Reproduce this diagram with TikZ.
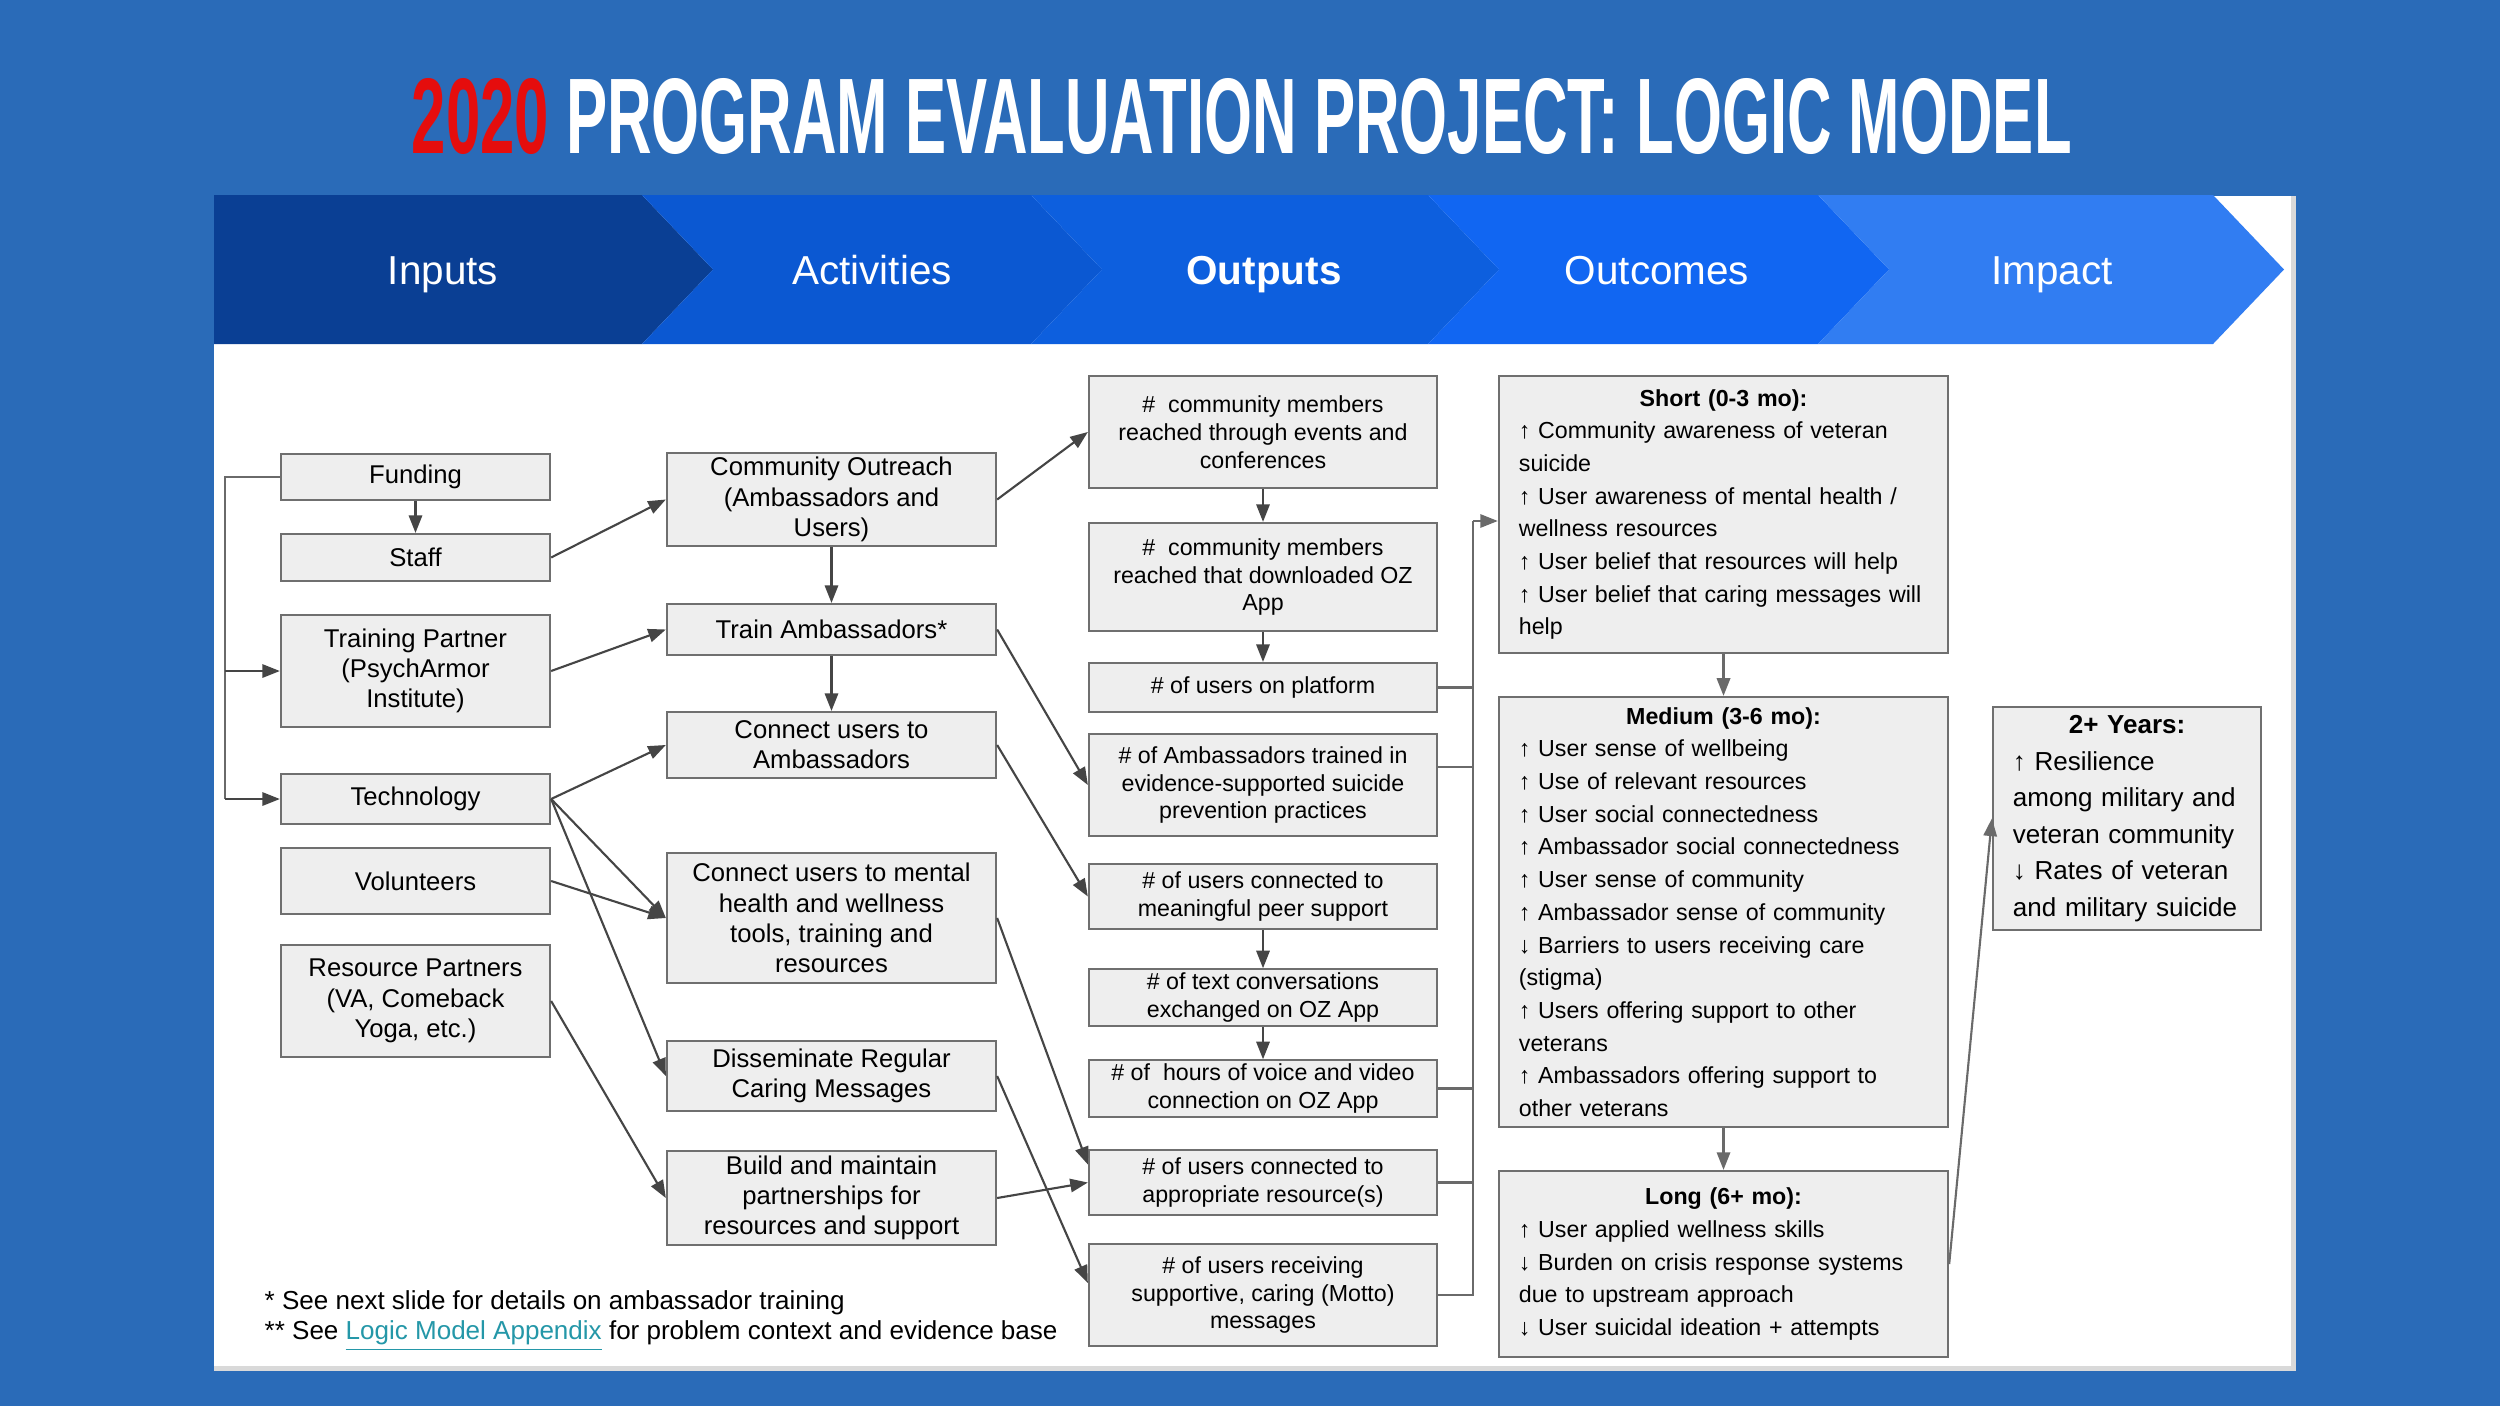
\documentclass[tikz,border=0pt]{standalone}
\usepackage{fontspec}
\setmainfont{Liberation Sans}
\usepackage{graphicx}
\usepackage{tikz}
\usetikzlibrary{arrows.meta,calc,positioning}
\usepackage{xcolor}
\definecolor{slide}{HTML}{2A6BB8}
\definecolor{titlered}{HTML}{E50D0D}
\definecolor{navy}{HTML}{0A3F94}
\definecolor{royal}{HTML}{0B58D2}
\definecolor{azure}{HTML}{0D5FDE}
\definecolor{bright}{HTML}{1166F2}
\definecolor{sky}{HTML}{317DF2}
\definecolor{boxfill}{HTML}{EEEEEE}
\definecolor{boxline}{HTML}{6F6F6F}
\definecolor{wiregray}{HTML}{454545}
\definecolor{busgray}{HTML}{6A6A6A}
\definecolor{linkteal}{HTML}{2497A8}
\definecolor{panelshade}{HTML}{D9D9D9}
\tikzset{
    box/.style={
        draw=boxline,
        fill=boxfill,
        line width=0.6pt,
        align=center,
        inner sep=1pt,
        font=\fontsize{7.3pt}{8.6pt}\selectfont
    },
    incol/.style={
        box,
        minimum width=2.69cm
    },
    actcol/.style={
        box,
        minimum width=3.29cm
    },
    outcol/.style={
        box,
        minimum width=3.48cm,
        font=\fontsize{6.6pt}{7.9pt}\selectfont
    },
    stagebox/.style={
        box,
        align=left,
        inner xsep=0.2cm,
        inner ysep=1pt,
        font=\fontsize{6.6pt}{9.3pt}\selectfont
    },
    flow/.style={
        -{Triangle[length=5pt,width=3.8pt]},
        line width=0.6pt,
        color=wiregray
    },
    wire/.style={
        line width=0.6pt,
        color=busgray
    },
    bandlabel/.style={
        text=white,
        anchor=base,
        inner sep=0pt,
        font=\fontsize{11.5pt}{13pt}\selectfont
    },
    note/.style={
        anchor=west,
        align=left,
        inner sep=0pt,
        font=\fontsize{7.4pt}{8.5pt}\selectfont
    }
}

\begin{document}
\begin{tikzpicture}[x=0.01cm,y=-0.01cm]

    % Fond
    \useasboundingbox (0,0) rectangle (2500,1406);
    \fill[slide] (0,0) rectangle (2500,1406);
    \fill[white] (214,196) rectangle (2291,1366);
    \draw[panelshade,line width=0.05cm]
        (214,1368) -- (2293,1368) -- (2293,196);

    % Titre
    \node[anchor=base west,inner sep=0pt] (title) at (411,153)
        {\resizebox{16.59cm}{0.75cm}{\bfseries\textcolor{titlered}{2020} \textcolor{white}{PROGRAM EVALUATION PROJECT: LOGIC MODEL}}};

    % Bandeau
    \fill[navy]
        (214,195) -- (642,195) -- (713,269.5) -- (642,344) -- (214,344) -- cycle;
    \fill[royal]
        (642,195) -- (1031,195) -- (1102,269.5) -- (1031,344) -- (642,344) -- (713,269.5) -- cycle;
    \fill[azure]
        (1031,195) -- (1428,195) -- (1499,269.5) -- (1428,344) -- (1031,344) -- (1102,269.5) -- cycle;
    \fill[bright]
        (1428,195) -- (1818,195) -- (1889,269.5) -- (1818,344) -- (1428,344) -- (1499,269.5) -- cycle;
    \fill[sky]
        (1818,195) -- (2213,195) -- (2284,269.5) -- (2213,344) -- (1818,344) -- (1889,269.5) -- cycle;

    % Etiquettes du bandeau
    \node[bandlabel] (lblinputs) at (443,284) {Inputs};
    \node[bandlabel] (lblactivities) at (872,284) {Activities};
    \node[bandlabel] (lbloutputs) at (1264,284) {\bfseries Outputs};
    \node[bandlabel] (lbloutcomes) at (1657,284) {Outcomes};
    \node[bandlabel] (lblimpact) at (2052,284) {Impact};

    % Inputs
    \node[incol,minimum height=0.46cm] (funding) at (415.5,477) {Funding};
    \node[incol,minimum height=0.47cm] (staff) at (415.5,557.5) {Staff};
    \node[incol,minimum height=1.12cm] (training) at (415.5,671)
        {Training Partner\\(PsychArmor\\Institute)};
    \node[incol,minimum height=0.50cm] (technology) at (415.5,799) {Technology};
    \node[incol,minimum height=0.66cm] (volunteers) at (415.5,881) {Volunteers};
    \node[incol,minimum height=1.12cm] (resources) at (415.5,1001)
        {Resource Partners\\(VA, Comeback\\Yoga, etc.)};

    % Activities
    \node[actcol,minimum height=0.93cm] (outreach) at (831.5,499.5)
        {Community Outreach\\(Ambassadors and\\Users)};
    \node[actcol,minimum height=0.51cm] (train) at (831.5,629.5) {Train Ambassadors*};
    \node[actcol,minimum height=0.66cm] (connect) at (831.5,745)
        {Connect users to\\Ambassadors};
    \node[actcol,minimum height=1.30cm] (wellness) at (831.5,918)
        {Connect users to mental\\health and wellness\\tools, training and\\resources};
    \node[actcol,minimum height=0.70cm] (caring) at (831.5,1076)
        {Disseminate Regular\\Caring Messages};
    \node[actcol,minimum height=0.94cm] (partners) at (831.5,1198)
        {Build and maintain\\partnerships for\\resources and support};

    % Outputs
    \node[outcol,minimum height=1.12cm] (reached) at (1263,432)
        {\#\ \ community members\\reached through events and\\conferences};
    \node[outcol,minimum height=1.08cm] (downloads) at (1263,577)
        {\#\ \ community members\\reached that downloaded OZ\\App};
    \node[outcol,minimum height=0.49cm] (platform) at (1263,687.5)
        {\# of users on platform};
    \node[outcol,minimum height=1.02cm] (trained) at (1263,785)
        {\# of Ambassadors trained in\\evidence-supported suicide\\prevention practices};
    \node[outcol,minimum height=0.65cm] (peers) at (1263,896.5)
        {\# of users connected to\\meaningful peer support};
    \node[outcol,minimum height=0.55cm] (texts) at (1263,997.5)
        {\# of text conversations\\exchanged on OZ App};
    \node[outcol,minimum height=0.55cm] (calls) at (1263,1088.5)
        {\# of\ \ hours of voice and video\\connection on OZ App};
    \node[outcol,minimum height=0.65cm] (referrals) at (1263,1182.5)
        {\# of users connected to\\appropriate resource(s)};
    \node[outcol,minimum height=1.02cm] (messages) at (1263,1295)
        {\# of users receiving\\supportive, caring (Motto)\\messages};

    % Outcomes
    \node[stagebox,text width=4.09cm,minimum height=2.77cm] (short) at (1723.5,514.5)
        {{\centering\textbf{Short (0-3 mo):}\par}
        ↑ Community awareness of veteran\\
        suicide\\
        ↑ User awareness of mental health /\\
        wellness resources\\
        ↑ User belief that resources will help\\
        ↑ User belief that caring messages will\\
        help};
    \node[stagebox,text width=4.09cm,minimum height=4.30cm] (medium) at (1723.5,912)
        {{\centering\textbf{Medium (3-6 mo):}\par}
        ↑ User sense of wellbeing\\
        ↑ Use of relevant resources\\
        ↑ User social connectedness\\
        ↑ Ambassador social connectedness\\
        ↑ User sense of community\\
        ↑ Ambassador sense of community\\
        ↓ Barriers to users receiving care\\
        (stigma)\\
        ↑ Users offering support to other\\
        veterans\\
        ↑ Ambassadors offering support to\\
        other veterans};
    \node[stagebox,text width=4.09cm,minimum height=1.86cm] (long) at (1723.5,1264)
        {{\centering\textbf{Long (6+ mo):}\par}
        ↑ User applied wellness skills\\
        ↓ Burden on crisis response systems\\
        due to upstream approach\\
        ↓ User suicidal ideation + attempts};

    % Impact
    \node[stagebox,text width=2.28cm,minimum height=2.23cm,
          font=\fontsize{7.4pt}{10.4pt}\selectfont] (years) at (2127,818.5)
        {{\centering\textbf{2+ Years:}\par}
        ↑ Resilience\\
        among military and\\
        veteran community\\
        ↓ Rates of veteran\\
        and military suicide};

    % Liaisons des inputs
    \draw[flow] (funding) -- (staff);
    \draw[wire]
        (funding.west) -- ++(-55,0) coordinate (bracket)
        -- (bracket |- technology.west);
    \draw[flow] (bracket |- training.west) -- (training.west);
    \draw[flow] (bracket |- technology.west) -- (technology.west);
    \draw[flow] (staff.east) -- (outreach.west);
    \draw[flow] (training.east) -- (train.west);
    \draw[flow] (technology.east) -- (connect.west);
    \draw[flow] (technology.east) -- (wellness.west);
    \draw[flow] (technology.east) -- (caring.west);
    \draw[flow] (volunteers.east) -- (wellness.west);
    \draw[flow] (resources.east) -- (partners.west);

    % Liaisons des activities
    \draw[flow] (outreach) -- (train);
    \draw[flow] (train) -- (connect);
    \draw[flow] (outreach.east) -- (reached.west);
    \draw[flow] (train.east) -- (trained.west);
    \draw[flow] (connect.east) -- (peers.west);
    \draw[flow] (wellness.east) -- ([yshift=0.18cm]referrals.west);
    \draw[flow] (caring.east) -- ([yshift=0.12cm]messages.west);
    \draw[flow] (partners.east) -- (referrals.west);

    % Colonne outputs
    \draw[flow] (reached) -- (downloads);
    \draw[flow] (downloads) -- (platform);
    \draw[flow] (peers) -- (texts);
    \draw[flow] (texts) -- (calls);

    % Collecteur vers outcomes
    \coordinate (bustop) at (1473,521);
    \draw[wire] (messages.east) -| (bustop);
    \draw[flow,busgray] (bustop) -- (bustop -| short.west);
    \draw[wire] (platform.east) -- (platform.east -| bustop);
    \draw[wire] ([yshift=0.18cm]trained.east) -- ([yshift=0.18cm]trained.east -| bustop);
    \draw[wire] (calls.east) -- (calls.east -| bustop);
    \draw[wire] (referrals.east) -- (referrals.east -| bustop);

    % Outcomes vers impact
    \draw[flow,busgray] (short) -- (medium);
    \draw[flow,busgray] (medium) -- (long);
    \draw[flow,busgray] (long.east) -- (years.west);

    % Notes
    \node[note] (footnote) at (264,1321)
        {* See next slide for details on ambassador training\\
        ** See \textcolor{linkteal}{\underline{Logic Model Appendix}} for problem context and evidence base};

\end{tikzpicture}
\end{document}
